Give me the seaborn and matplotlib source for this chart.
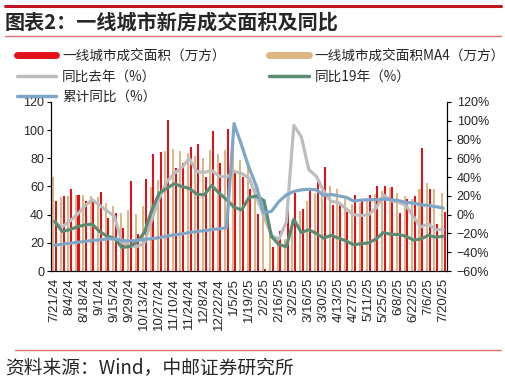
import matplotlib
matplotlib.use("Agg")
import matplotlib.pyplot as plt
import matplotlib.ticker as mticker
import numpy as np
import pandas as pd
import seaborn as sns
from matplotlib.lines import Line2D

# weekly observations, 7/21/24 .. 7/20/25
weeks = [
    "7/21/24", "7/28/24", "8/4/24", "8/11/24", "8/18/24", "8/25/24", "9/1/24", "9/8/24",
    "9/15/24", "9/22/24", "9/29/24", "10/6/24", "10/13/24", "10/20/24", "10/27/24", "11/3/24",
    "11/10/24", "11/17/24", "11/24/24", "12/1/24", "12/8/24", "12/15/24", "12/22/24", "12/29/24",
    "1/5/25", "1/12/25", "1/19/25", "1/26/25", "2/2/25", "2/9/25", "2/16/25", "2/23/25",
    "3/2/25", "3/9/25", "3/16/25", "3/23/25", "3/30/25", "4/6/25", "4/13/25", "4/20/25",
    "4/27/25", "5/4/25", "5/11/25", "5/18/25", "5/25/25", "6/1/25", "6/8/25", "6/15/25",
    "6/22/25", "6/29/25", "7/6/25", "7/13/25", "7/20/25",
]

# 万方
area = [
    49.8, 52.9, 58.4, 53.7, 49.8, 50.4, 56.0, 37.5, 41.3, 30.8,
    64.0, 26.0, 65.2, 83.0, 84.5, 107.5, 73.0, 77.0, 87.8, 90.0,
    66.4, 99.6, 76.9, 100.8, 69.5, 66.7, 58.4, 40.6, 1.2, 17.3,
    28.5, 43.4, 55.3, 44.1, 56.5, 65.2, 73.8, 47.0, 47.0, 42.0,
    54.0, 50.6, 54.0, 60.7, 60.7, 59.5, 41.3, 51.2, 53.6, 87.3,
    58.1, 33.5, 41.8,
]
area_ma4 = [
    66.4, 52.8, 53.4, 53.7, 53.8, 53.0, 52.5, 48.4, 46.3, 41.4,
    43.4, 40.6, 46.5, 59.5, 64.7, 85.0, 86.8, 85.2, 84.0, 81.4,
    80.0, 85.8, 83.2, 85.9, 86.7, 78.5, 73.9, 58.8, 41.7, 29.4,
    22.0, 22.6, 36.1, 42.8, 49.8, 55.3, 59.9, 60.6, 58.3, 52.6,
    47.5, 48.4, 50.2, 54.8, 56.5, 58.7, 55.5, 53.2, 51.4, 58.3,
    62.5, 58.1, 55.2,
]

# %
yoy_last_year = [
    -9, -13, -7, 0, 9, 16, 10, 4, -2, -30, -33, -34, -30,
    -5, 18, 35, 44, 50, 60, 46, 45, 47, 41, 40,
    46, 44, 39, 19, -2, -22, -26, -8, 95, 83,
    48, 41, 25, 14, 13, 6, 0, -1, 0, 7, 21, 15, 13, 10, -2, -13, -10, -16, -16,
]
yoy_2019 = [
    -7, -18, -16, -13, -11, -10, -18, -23, -25, -35, -34, -29, -19,
    5, 23, 28, 33, 30, 28, 22, 21, 31, 23, 16,
    8, 5, 18, 20, 15, -23, -32, -34, -5, -19,
    -16, -20, -25, -22, -25, -28, -32, -31, -30, -26, -19, -21, -21, -23, -27, -26, -22, -24, -23,
]
ytd_yoy = [
    -32.5, -31.5, -30.5, -29.5, -28.5, -27.5, -26.8, -26.0, -25.5, -27.5, -28.0, -27.5,
    -26.5, -25.5, -24.5, -23.0, -21.5, -20.5, -19.0, -18.0, -17.0, -16.0, -15.0, -14.0,
    97, 74, 50, 30, 2, 3.5, 14, 21, 24.7, 26.5, 27, 26.5,
    20.5, 21.5, 20, 18.5, 14.5, 15.5, 16, 16, 16.5, 16, 15, 13, 12.4, 10.6, 9.8, 8.5, 7,
]

RED = "#E3101B"
TAN = "#DDB783"
GRAY = "#BDBDBD"
GREEN = "#5A8B73"
BLUE = "#7EA6C6"
RULE_DARK = "#C0161F"
RULE_LIGHT = "#E07070"

sns.set_style("white")
plt.rcParams["font.family"] = ["Liberation Sans", "Noto Sans CJK SC", "DejaVu Sans"]
CJK = ["Noto Sans CJK SC", "DejaVu Sans"]

n = len(weeks)
pos = np.arange(n)
bars = pd.DataFrame({
    "week": weeks * 2,
    "value": area_ma4 + area,
    "series": ["ma4"] * n + ["area"] * n,
})

fig = plt.figure(figsize=(5.06, 3.85), dpi=100)
ax = fig.add_axes([0.1008, 0.2961, 0.7826, 0.439])

sns.barplot(data=bars, x="week", y="value", hue="series", hue_order=["ma4", "area"],
            palette=[TAN, RED], saturation=1, width=0.72, gap=0.25, linewidth=0,
            legend=False, ax=ax)
ax.set_ylim(0, 120)
ax.set_xlim(-0.5, n - 0.5)
ax.set_yticks(range(0, 121, 20))
ax.set_xticks(pos)
ax.set_xticklabels([w if i % 2 == 0 else "" for i, w in enumerate(weeks)], rotation=90)
ax.set_xlabel("")
ax.set_ylabel("")

ax2 = ax.twinx()
sns.lineplot(x=pos, y=yoy_last_year, color=GRAY, lw=2.3, ax=ax2)
sns.lineplot(x=pos, y=yoy_2019, color=GREEN, lw=2.3, ax=ax2)
sns.lineplot(x=pos, y=ytd_yoy, color=BLUE, lw=2.3, ax=ax2)
ax2.set_ylim(-60, 120)
ax2.set_yticks(range(-60, 121, 20))
ax2.yaxis.set_major_formatter(mticker.PercentFormatter(decimals=0))
ax2.set_xlim(-0.5, n - 0.5)

for a in (ax, ax2):
    a.spines["top"].set_visible(False)
    for s in ("left", "right", "bottom"):
        a.spines[s].set_color("black")
        a.spines[s].set_linewidth(0.8)
    a.tick_params(axis="both", which="both", length=3, width=0.8, color="black",
                  labelsize=9, pad=2)
ax.tick_params(axis="x", labelsize=9.5)
ax2.tick_params(axis="y", pad=4)
ax.tick_params(axis="y", left=True)
ax2.tick_params(axis="y", right=True)

handles = [
    Line2D([], [], color=RED, lw=5),
    Line2D([], [], color=GRAY, lw=2.5),
    Line2D([], [], color=BLUE, lw=2.5),
    Line2D([], [], color=TAN, lw=5),
    Line2D([], [], color=GREEN, lw=2.5),
]
labels = ["一线城市成交面积（万方）", "同比去年（%）", "累计同比（%）",
          "一线城市成交面积MA4（万方）", "同比19年（%）"]
fig.legend(handles, labels, ncol=2, loc="upper left", bbox_to_anchor=(0.022, 0.888),
           frameon=False, handlelength=2.9, handletextpad=0.45, columnspacing=3.2,
           labelspacing=0.5, borderaxespad=0, prop={"family": CJK, "size": 9.8})

fig.add_artist(Line2D([0.01, 0.99], [0.984, 0.984], color=RULE_DARK, lw=2.2))
fig.add_artist(Line2D([0.01, 0.99], [0.906, 0.906], color=RULE_LIGHT, lw=1.0))
fig.add_artist(Line2D([0.03, 0.99], [0.091, 0.091], color=RULE_LIGHT, lw=1.0))
fig.text(0.01, 0.943, "图表2：一线城市新房成交面积及同比", fontsize=14.5, fontweight="bold",
         family=CJK, va="center", ha="left")
fig.text(0.01, 0.044, "资料来源：Wind，中邮证券研究所", fontsize=13.5, family=CJK,
         va="center", ha="left")

fig.savefig("out.png", dpi=100)
